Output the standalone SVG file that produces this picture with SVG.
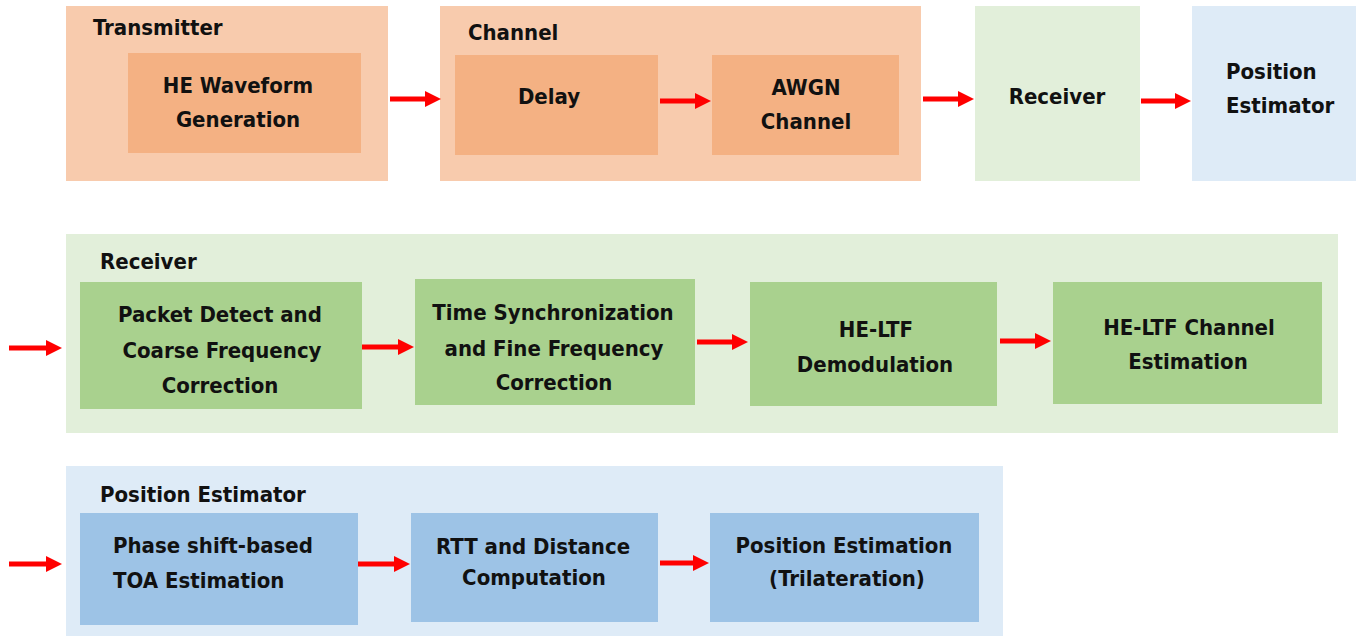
<svg xmlns="http://www.w3.org/2000/svg" width="1356" height="636" viewBox="0 0 1356 636">
<style>
text{font-family:"DejaVu Sans Condensed","DejaVu Sans",sans-serif;font-stretch:condensed;font-weight:bold;font-size:22px;fill:#111}
.c{text-anchor:middle}
.or-o{fill:#f8cbad}.or-i{fill:#f4b183}
.gr-o{fill:#e2efda}.gr-i{fill:#a9d18e}
.bl-o{fill:#deebf7}.bl-i{fill:#9dc3e6}
.arr{stroke:#ff0000;stroke-width:5;fill:none;marker-end:url(#ah)}
</style>
<defs>
<marker id="ah" markerUnits="userSpaceOnUse" markerWidth="16" markerHeight="16" refX="0" refY="8" orient="auto" viewBox="0 0 16 16">
<path d="M0,0 L16,8 L0,16 z" fill="#ff0000"/>
</marker>
</defs>
<rect width="1356" height="636" fill="#ffffff"/>

<g id="transmitter">
<rect class="or-o" x="66" y="6" width="322" height="175"/>
<text x="93" y="35">Transmitter</text>
</g>
<g id="he-waveform">
<rect class="or-i" x="128" y="53" width="233" height="100"/>
<text class="c" x="238" y="93">HE Waveform</text>
<text class="c" x="238" y="127">Generation</text>
</g>
<g id="channel">
<rect class="or-o" x="440" y="6" width="481" height="175"/>
<text x="468" y="40">Channel</text>
</g>
<g id="delay">
<rect class="or-i" x="455" y="55" width="203" height="100"/>
<text class="c" x="549" y="104">Delay</text>
</g>
<g id="awgn">
<rect class="or-i" x="712" y="55" width="187" height="100"/>
<text class="c" x="806" y="95">AWGN</text>
<text class="c" x="806" y="129">Channel</text>
</g>
<g id="receiver-top">
<rect class="gr-o" x="975" y="6" width="165" height="175"/>
<text class="c" x="1057" y="104">Receiver</text>
</g>
<g id="position-top">
<rect class="bl-o" x="1192" y="6" width="164" height="175"/>
<text x="1226" y="79">Position</text>
<text x="1226" y="113">Estimator</text>
</g>

<g id="receiver">
<rect class="gr-o" x="66" y="234" width="1272" height="199"/>
<text x="100" y="269">Receiver</text>
</g>
<g id="packet-detect">
<rect class="gr-i" x="80" y="282" width="282" height="127"/>
<text class="c" x="220" y="322">Packet Detect and</text>
<text class="c" x="222" y="358">Coarse Frequency</text>
<text class="c" x="220" y="393">Correction</text>
</g>
<g id="time-sync">
<rect class="gr-i" x="415" y="279" width="280" height="126"/>
<text class="c" x="553" y="320">Time Synchronization</text>
<text class="c" x="554" y="356">and Fine Frequency</text>
<text class="c" x="554" y="390">Correction</text>
</g>
<g id="heltf-demod">
<rect class="gr-i" x="750" y="282" width="247" height="124"/>
<text class="c" x="876" y="337">HE-LTF</text>
<text class="c" x="875" y="372">Demodulation</text>
</g>
<g id="heltf-chest">
<rect class="gr-i" x="1053" y="282" width="269" height="122"/>
<text class="c" x="1189" y="335">HE-LTF Channel</text>
<text class="c" x="1188" y="369">Estimation</text>
</g>

<g id="position-estimator">
<rect class="bl-o" x="66" y="466" width="937" height="170"/>
<text x="100" y="502">Position Estimator</text>
</g>
<g id="toa">
<rect class="bl-i" x="80" y="513" width="278" height="112"/>
<text x="113" y="553">Phase shift-based</text>
<text x="113" y="588">TOA Estimation</text>
</g>
<g id="rtt">
<rect class="bl-i" x="411" y="513" width="247" height="109"/>
<text class="c" x="533" y="554">RTT and Distance</text>
<text class="c" x="534" y="585">Computation</text>
</g>
<g id="trilateration">
<rect class="bl-i" x="710" y="513" width="269" height="109"/>
<text class="c" x="844" y="553">Position Estimation</text>
<text class="c" x="847" y="586">(Trilateration)</text>
</g>

<g id="connectors">
<line class="arr" x1="390" y1="99" x2="425" y2="99"/>
<line class="arr" x1="660" y1="101" x2="695" y2="101"/>
<line class="arr" x1="923" y1="99" x2="958" y2="99"/>
<line class="arr" x1="1141" y1="101" x2="1175" y2="101"/>
<line class="arr" x1="9" y1="348" x2="46" y2="348"/>
<line class="arr" x1="362" y1="347" x2="398" y2="347"/>
<line class="arr" x1="697" y1="342" x2="732" y2="342"/>
<line class="arr" x1="1000" y1="341" x2="1035" y2="341"/>
<line class="arr" x1="9" y1="564" x2="46" y2="564"/>
<line class="arr" x1="358" y1="564" x2="394" y2="564"/>
<line class="arr" x1="660" y1="563" x2="693" y2="563"/>
</g>
</svg>
